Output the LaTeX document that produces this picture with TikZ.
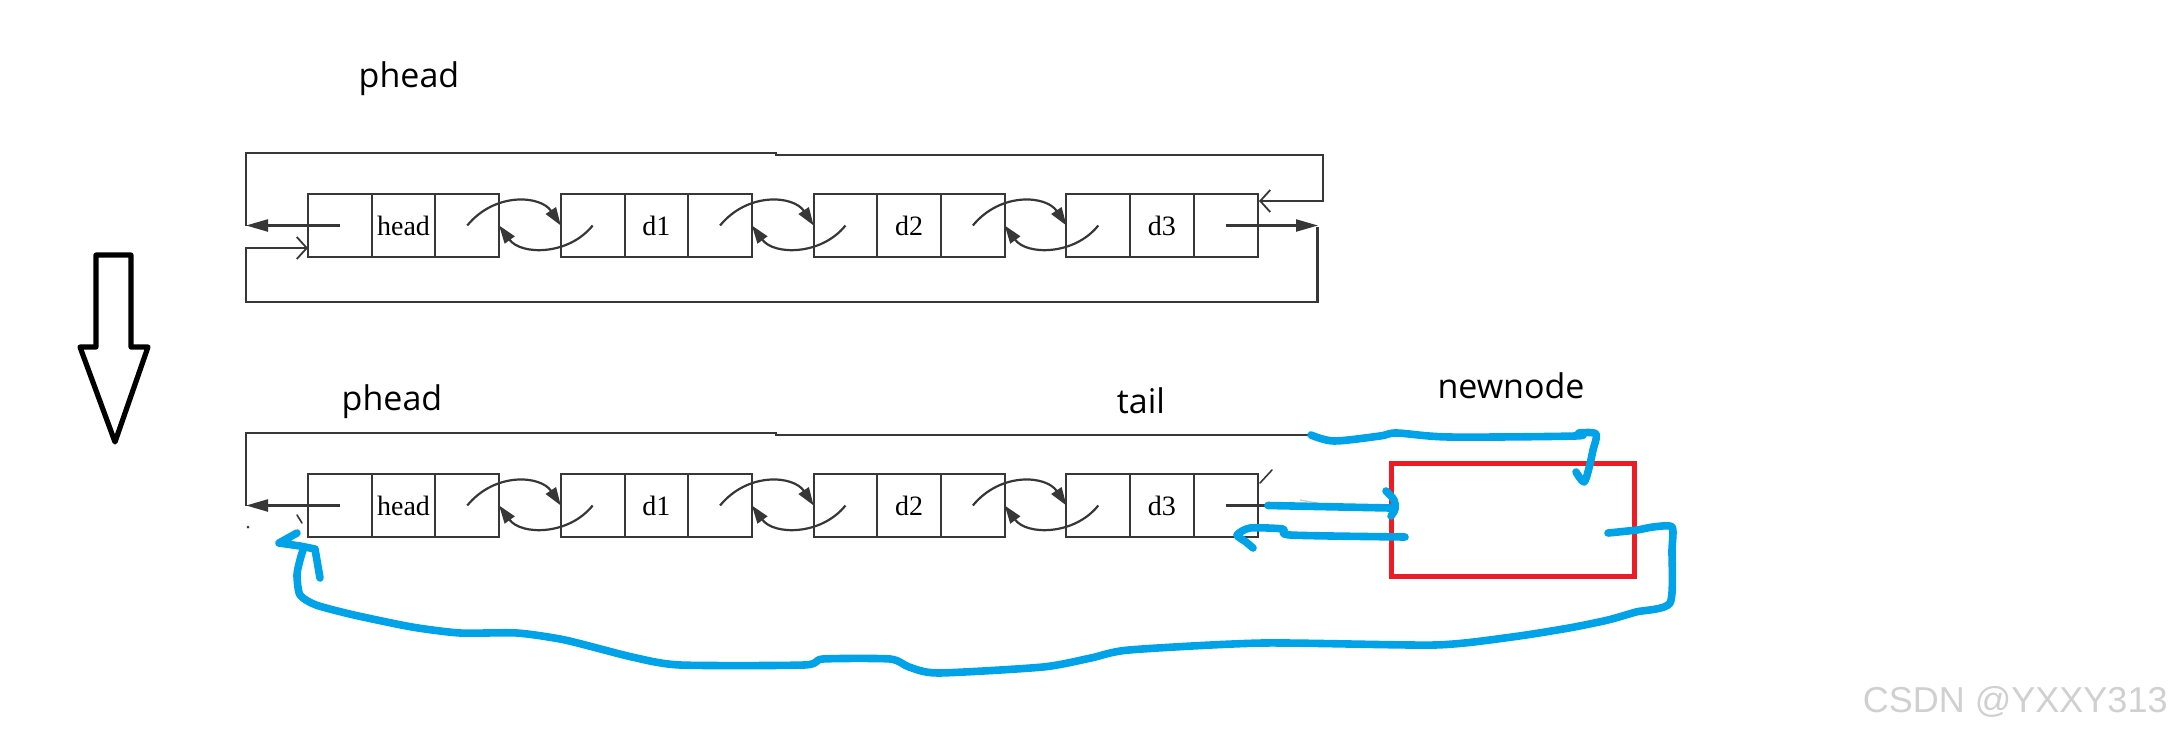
\documentclass[tikz,border=0pt]{standalone}
\usepackage{fontspec}
\setmainfont{Liberation Serif}
\newfontfamily\labfont{Open Sans}
\newfontfamily\wmfont{Liberation Sans}
\usetikzlibrary{arrows.meta}
\definecolor{csdnblue}{RGB}{0,162,232}
\definecolor{pred}{RGB}{237,28,36}
\definecolor{lgray}{RGB}{55,55,55}
\definecolor{wmgray}{RGB}{208,208,208}
\newcommand\mklistnode[4]{%
  \node[cell] (#1a) at ({#2+31.85},#3) {};
  \node[cell] (#1b) at ({#2+95.55},#3) {#4};
  \node[cell] (#1c) at ({#2+159.25},#3) {};
}
\begin{document}
\begin{tikzpicture}[x=0.5pt,y=-0.5pt,
  cell/.style={draw=lgray, line width=1pt, minimum width=31.85pt, minimum height=31.5pt,
    inner sep=0pt, outer sep=0pt, font=\fontsize{14}{14}\selectfont},
  ptr/.style={draw=lgray, line width=1.1pt},
  filltip/.style={ptr, -{Triangle[length=11pt,width=6pt]}},
  arcline/.style={ptr, -{Triangle[length=9pt,width=6pt]}},
  opentip/.style={ptr, -{Straight Barb[length=5pt,width=11pt,line width=0.9pt]}},
  lab/.style={font=\labfont\fontsize{17}{17}\selectfont, inner sep=0pt, anchor=base},
  bluestroke/.style={draw=csdnblue, line width=3.8pt, line cap=round, line join=round},
  remnant/.style={draw=lgray, line width=0.8pt, line cap=round}
]
\useasboundingbox (0,0) rectangle (2176,734);

% ---------- hollow down arrow ----------
\draw[line width=2.6pt, line join=round]
  (96,255) -- (131,255) -- (131,347) -- (148,347) -- (115,442) -- (80,347) -- (96,347) -- cycle;

% ---------- top list ----------
\node[lab] (ph1) at (409,87) {phead};
\mklistnode{t1}{308}{225.5}{head}
\mklistnode{t2}{560.8}{225.5}{d1}
\mklistnode{t3}{813.6}{225.5}{d2}
\mklistnode{t4}{1066.4}{225.5}{d3}

\coordinate (tLA) at (246,225.5);
\coordinate (tTL) at (246,153);
\coordinate (tTR) at (1323,155);
\coordinate (tRin) at (1259,201);
\coordinate (tRA) at (1318,225.5);
\coordinate (tBL) at (246,302);
\coordinate (tLin) at (246,248);
\coordinate (tLend) at (308,248);

\draw[filltip] (t1a.center) -- (tLA);
\draw[opentip] (tLA) -- (tTL) -- (776,153) -- (776,155) -- (tTR) -- (1323,201) -- (tRin);
\draw[filltip] (t4c.center) -- (tRA);
\draw[opentip] (1317.5,227) -- (1317.5,302) -- (tBL) -- (tLin) -- (tLend);

% ---------- bottom list ----------
\node[lab] (ph2) at (392,410) {phead};
\node[lab] (tl) at (1141,413) {tail};
\node[lab] (nn) at (1511,398) {newnode};
\mklistnode{b1}{308}{505.5}{head}
\mklistnode{b2}{560.8}{505.5}{d1}
\mklistnode{b3}{813.6}{505.5}{d2}
\mklistnode{b4}{1066.4}{505.5}{d3}

\coordinate (bLA) at (246,505.5);
\coordinate (bTE) at (1311,435);
\draw[filltip] (b1a.center) -- (bLA);
\draw[ptr] (bLA) -- (246,433) -- (776,433) -- (776,435) -- (bTE);
\coordinate (bRA) at (1268,505.5);
\draw[ptr] (b4c.center) -- (bRA);

% faint remnants of erased arrows
\draw[remnant] (297,515) -- (302,523);
\fill[lgray] (248,527) circle (1.5);
\draw[remnant] (1260,483) -- (1272,470);
\draw[draw=gray!45, line width=0.6pt] (1300,500) -- (1317,503);

% ---------- double links ----------
\foreach \p/\q in {t1/t2,t2/t3,t3/t4,b1/b2,b2/b3,b3/b4}{
  \draw[arcline] (\p c.center) .. controls +(28,-34) and +(-20,-30) .. (\q a.west);
  \draw[arcline] (\q a.center) .. controls +(-24,30) and +(22,30) .. (\p c.east);
}

% ---------- new node ----------
\node[draw=pred, line width=2.5pt, minimum width=121.5pt, minimum height=56.5pt,
  inner sep=0pt, outer sep=0pt] (newbox) at (1513,520) {};

% ---------- blue hand-drawn links ----------
\draw[bluestroke] plot[smooth, tension=0.5] coordinates {
  (bTE) (1334,441) (1380,436) (1397,433) (1449,437) (1575,436) (1579,433) (1596,434)
  (1593,450) (1589,468) (1584,482) (1576,472)};
\draw[bluestroke] (bRA) -- (1390,508);
\draw[bluestroke] plot[smooth, tension=0.6] coordinates {(1386,491) (1394,500) (1395,509) (1391,516)};
\draw[bluestroke] plot[smooth, tension=0.4] coordinates {
  (1405,537) (1290,535) (1283,529) (1250,528) (1237,535) (1246,542) (1253,548)};
\draw[bluestroke] plot[smooth, tension=0.4] coordinates {
  (1608,533) (1637,530) (1653,527) (1672,527) (1672,550) (1670,603) (1636,612)
  (1608,620) (1569,628) (1512,637) (1435,645) (1263,643) (1129,650) (1091,658)
  (1043,667) (938,673) (909,667) (890,659) (823,659) (804,665) (680,665) (632,657)
  (565,640) (517,633) (460,633) (412,627) (354,615) (316,605) (300,595) (297,575)
  (300,560) (303,550)};
\draw[bluestroke] (297,533) -- (279,543) -- (300,546) -- (315,549) -- (320,578);

% ---------- watermark ----------
\node[anchor=base east, inner sep=0pt, font=\wmfont\fontsize{18}{18}\selectfont, text=wmgray]
  (wm) at (2168,712) {CSDN @YXXY313};
\end{tikzpicture}
\end{document}
